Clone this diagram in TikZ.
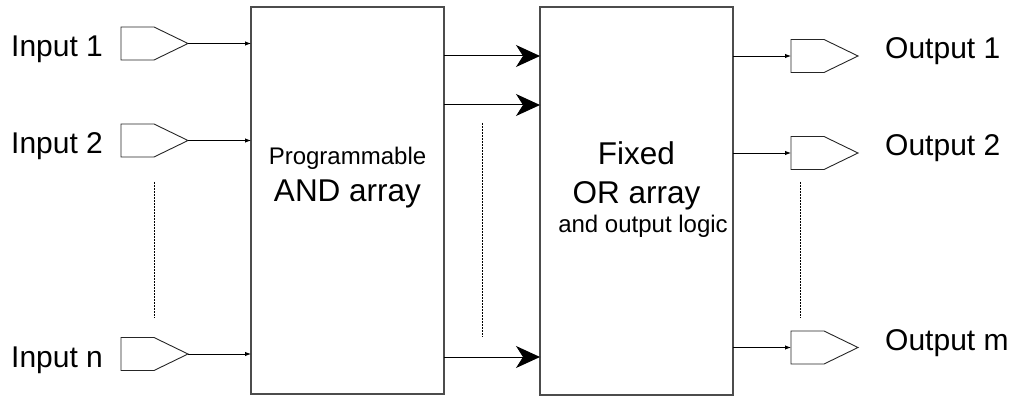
\documentclass[tikz,border=0pt]{standalone}
\usepackage{fontspec}
\setmainfont{Liberation Sans}
\usetikzlibrary{arrows.meta}
\begin{document}
\begin{tikzpicture}[x=1pt,y=-1pt,
  box/.style={draw=black!70, line width=1.3pt, inner sep=0pt, outer sep=0pt},
  buffer/.style={inner sep=0pt, outer sep=0pt, minimum width=67pt, minimum height=33pt},
  bufline/.style={draw=black!85, line width=0.9pt, line join=miter},
  small/.style={draw=black, line width=0.9pt, -{Latex[length=6pt,width=4.5pt]}},
  big/.style={draw=black, line width=1pt, -{Stealth[length=24pt,width=22pt,inset=7pt]}},
  dots/.style={draw=black, line width=1pt, dash pattern=on 2pt off 1pt},
  lbl/.style={font=\fontsize{30}{36}\selectfont, anchor=base west, inner sep=0pt},
  midtxt/.style={font=\fontsize{24}{29}\selectfont, anchor=base, inner sep=0pt},
  bigtxt/.style={font=\fontsize{31.5}{38}\selectfont, anchor=base, inner sep=0pt}
]
\useasboundingbox (0,0) rectangle (1020,398);

% blocks
\node[box, minimum width=193pt, minimum height=387pt] (and) at (347.5,200.5) {};
\node[box, minimum width=193pt, minimum height=388pt] (or) at (636.5,201) {};

\node[midtxt] (prog) at (347.5,165) {Programmable};
\node[bigtxt] (andarr) at (347.5,202) {AND array};
\node[bigtxt] (fixed) at (636.5,165) {Fixed};
\node[bigtxt] (orarr) at (636.5,204) {OR array};
\node[midtxt] (outlog) at (643,233) {and output logic};

% input buffers
\node[buffer] (in1) at (154.5,43.5) {};
\node[buffer] (in2) at (154.5,140.5) {};
\node[buffer] (inn) at (154.5,354) {};
% output buffers
\node[buffer] (out1) at (824.5,56) {};
\node[buffer] (out2) at (824.5,153) {};
\node[buffer] (outm) at (824.5,347.5) {};

\foreach \b in {in1,in2,inn,out1,out2,outm}{
  \draw[bufline] (\b.north west) -- ([xshift=33pt]\b.north west) -- (\b.east)
     -- ([xshift=33pt]\b.south west) -- (\b.south west) -- cycle;
}

% labels
\node[lbl] (lin1) at (11,57) {Input 1};
\node[lbl] (lin2) at (11,154) {Input 2};
\node[lbl] (linn) at (11,367) {Input n};
\node[lbl] (lout1) at (885,59) {Output 1};
\node[lbl] (lout2) at (885,156) {Output 2};
\node[lbl] (loutm) at (885,350) {Output m};

% input connectors
\foreach \b in {in1,in2,inn}{
  \draw[small] (\b.east) -- (\b.east -| and.west);
}
% output connectors
\foreach \b in {out1,out2,outm}{
  \draw[small] (\b.west -| or.east) -- (\b.west);
}

% AND -> OR
\coordinate (s1) at (444,56);
\coordinate (s2) at (444,105);
\coordinate (s3) at (444,357);
\foreach \s in {s1,s2,s3}{
  \draw[big] (\s) -- (\s -| or.west);
}

% dotted continuation lines
\coordinate (d1a) at (154,182);
\coordinate (d1b) at (154,318);
\coordinate (d2a) at (482,123);
\coordinate (d2b) at (482,337);
\coordinate (d3a) at (800,182);
\coordinate (d3b) at (800,318);
\draw[dots] (d1a) -- (d1b);
\draw[dots] (d2a) -- (d2b);
\draw[dots] (d3a) -- (d3b);
\end{tikzpicture}
\end{document}
